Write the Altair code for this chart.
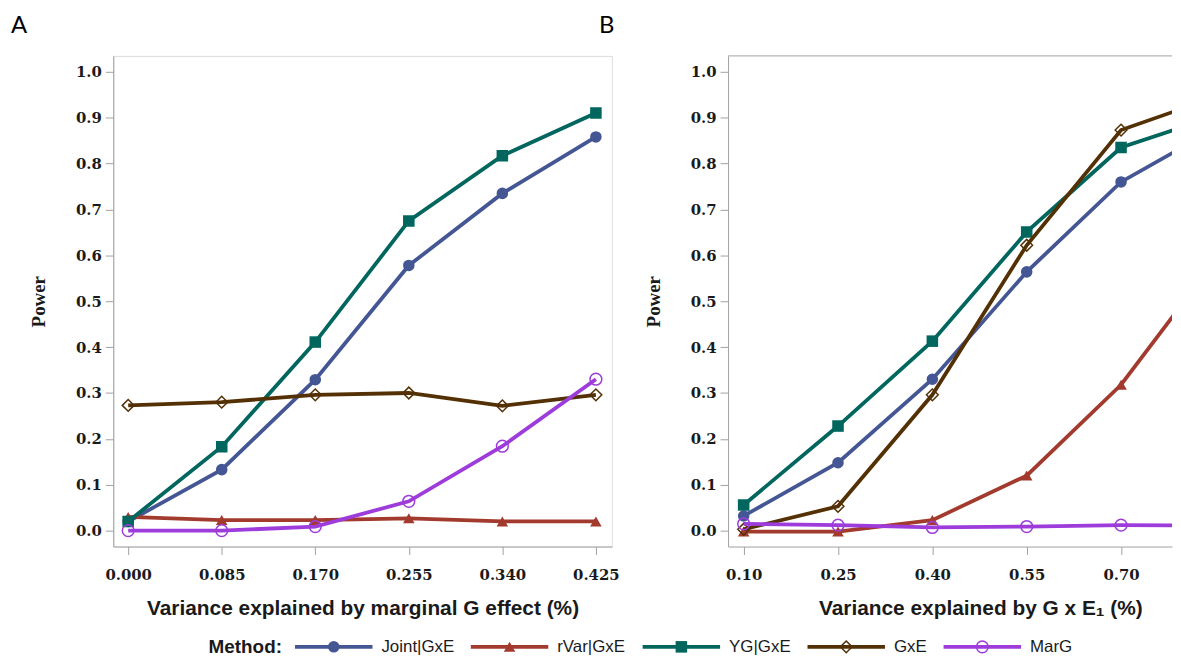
import altair as alt
import pandas as pd

# ---------------- data ----------------
methods = ["Joint|GxE", "rVar|GxE", "YG|GxE", "GxE", "MarG"]
colors = ["#445694", "#A23A2E", "#01665E", "#543005", "#9D3CDB"]
shapes = ["circle", "triangle-up", "square", "diamond", "circle"]
filled = [True, True, True, False, False]

xa = [0.000, 0.085, 0.170, 0.255, 0.340, 0.425]
a_joint = [0.020, 0.133, 0.329, 0.578, 0.735, 0.858]
a_rvar = [0.030, 0.023, 0.023, 0.027, 0.020, 0.020]
a_yg = [0.020, 0.183, 0.411, 0.675, 0.817, 0.910]
a_gxe = [0.273, 0.280, 0.296, 0.300, 0.272, 0.296]
a_marg = [0.000, 0.000, 0.009, 0.064, 0.184, 0.330]

xb = [0.10, 0.25, 0.40, 0.55, 0.70, 0.85]
b_joint = [0.032, 0.148, 0.330, 0.564, 0.760, 0.876]
b_rvar = [-0.002, -0.002, 0.023, 0.120, 0.318, 0.590]
b_yg = [0.056, 0.228, 0.413, 0.651, 0.835, 0.903]
b_gxe = [0.003, 0.053, 0.296, 0.622, 0.873, 0.945]
b_marg = [0.015, 0.012, 0.007, 0.009, 0.012, 0.011]

y_ticks = [0.0, 0.1, 0.2, 0.3, 0.4, 0.5, 0.6, 0.7, 0.8, 0.9, 1.0]
xa_ticks = [0.000, 0.085, 0.170, 0.255, 0.340, 0.425]
xb_ticks = [0.10, 0.25, 0.40, 0.55, 0.70, 0.85]

title_a = "Variance explained by marginal G effect (%)"
title_b = "Variance explained by G x E\u2081 (%)"

GRAY = "#A0A0A0"
TXT = "#1a1a1a"
H = 494
WA = 502
WB = 447
YDOM = [-0.0346, 1.0346]
TICK_FONT = "DejaVu Serif"


def long_frame(xs, series):
    rows = []
    for m, vals in zip(methods, series):
        for xv, yv in zip(xs, vals):
            rows.append({"method": m, "x": xv, "y": yv})
    return pd.DataFrame(rows)


def anchor(dx, dy):
    # invisible element that fixes the chart's outer bounds
    return alt.Chart(pd.DataFrame({"a": [0]})).mark_rule(strokeOpacity=0, strokeWidth=1).encode(
        x=alt.value(dx), x2=alt.value(dx + 1), y=alt.value(dy))


def letter(t, dx, dy):
    return alt.Chart(pd.DataFrame({"a": [0]})).mark_text(
        text=t, font="Lato", fontSize=24, align="left", baseline="alphabetic", color="#000"
    ).encode(x=alt.value(dx), y=alt.value(dy))


def panel(xs, series, xdom, width, xticks, xfmt, xtitle, title_x=None):
    df = long_frame(xs, series)
    base = alt.Chart(df)
    axis_kw = dict(
        values=xticks, format=xfmt, title=xtitle,
        labelFont=TICK_FONT, labelFontWeight="bold", labelFontSize=15, labelColor=TXT,
        titleFont="Liberation Sans", titleFontWeight="bold", titleFontSize=21, titleColor=TXT,
        tickSize=8, tickColor=GRAY, domainColor=GRAY, grid=False,
        labelPadding=13, titlePadding=15,
    )
    if title_x is not None:
        axis_kw["titleX"] = title_x
        axis_kw["titleAlign"] = "center"
    x = alt.X("x:Q", scale=alt.Scale(domain=xdom, nice=False, zero=False), axis=alt.Axis(**axis_kw))
    y = alt.Y("y:Q", scale=alt.Scale(domain=YDOM, nice=False, zero=False),
              axis=alt.Axis(values=y_ticks, format=".1f", title="Power",
                            labelFont=TICK_FONT, labelFontWeight="bold", labelFontSize=15,
                            labelColor=TXT, titleFont="Liberation Serif", titleFontWeight="bold",
                            titleFontSize=19, titleColor=TXT, tickSize=8, tickColor=GRAY,
                            domainColor=GRAY, grid=False, labelPadding=4, titlePadding=27))
    layers = []
    for m, c, s, f in zip(methods, colors, shapes, filled):
        d = base.transform_filter(alt.datum.method == m)
        layers.append(d.mark_line(color=c, strokeWidth=3.8, clip=True).encode(x=x, y=y))
        if f:
            layers.append(d.mark_point(shape=s, filled=True, color=c, size=135, opacity=1,
                                       clip=True).encode(x=x, y=y))
        else:
            layers.append(d.mark_point(shape=s, filled=False, color=c, size=140, strokeWidth=1.5,
                                       opacity=1, clip=True).encode(x=x, y=y))
    return layers


# ---------------- panel A ----------------
layers_a = panel(xa, [a_joint, a_rvar, a_yg, a_gxe, a_marg], [-0.01354, 0.4395], WA,
                 xa_ticks, ".3f", title_a)

# legend (drawn in panel A coordinates, below the plots)
LEG_Y = 595
leg_layers = [
    alt.Chart(pd.DataFrame({"a": [0]})).mark_text(
        text="Method:", font="Liberation Sans", fontWeight="bold", fontSize=19, align="left",
        baseline="middle", color=TXT).encode(x=alt.value(96), y=alt.value(LEG_Y))
]
label_w = [73, 69, 62, 33, 42]
line_len = 78
xpos = 183
for m, c, s, f, lw in zip(methods, colors, shapes, filled, label_w):
    one = alt.Chart(pd.DataFrame({"method": [m]}))
    leg_layers.append(one.mark_rule(color=c, strokeWidth=3.8).encode(
        x=alt.value(xpos), x2=alt.value(xpos + line_len), y=alt.value(LEG_Y)))
    if f:
        leg_layers.append(one.mark_point(shape=s, filled=True, color=c, size=135, opacity=1).encode(
            x=alt.value(xpos + line_len / 2), y=alt.value(LEG_Y)))
    else:
        leg_layers.append(one.mark_point(shape=s, filled=False, color=c, size=140, strokeWidth=1.5,
                                         opacity=1).encode(
            x=alt.value(xpos + line_len / 2), y=alt.value(LEG_Y)))
    leg_layers.append(one.mark_text(text=m, font="Liberation Sans", fontSize=17, align="left",
                                    baseline="middle", color=TXT).encode(
        x=alt.value(xpos + line_len + 9), y=alt.value(LEG_Y)))
    xpos += line_len + 9 + lw + 17

chart_a = alt.layer(
    anchor(-105.5, -45.5), letter("A", -103, -23), *layers_a, *leg_layers
).properties(width=WA, height=H)

# ---------------- panel B ----------------
layers_b = panel(xb, [b_joint, b_rvar, b_yg, b_gxe, b_marg], [0.0752, 0.7810], WB,
                 xb_ticks, ".2f", title_b, title_x=254)
top_rule = alt.Chart(pd.DataFrame({"a": [0]})).mark_rule(color=GRAY, strokeWidth=1).encode(
    x=alt.value(0), x2=alt.value(WB), y=alt.value(0))
chart_b = alt.layer(
    letter("B", -130, -23), top_rule, *layers_b
).properties(width=WB, height=H, view=alt.ViewBackground(stroke="transparent"))

chart = alt.hconcat(chart_a, chart_b, spacing=117, bounds="flush").properties(
    padding={"left": 0, "top": 0, "right": 0, "bottom": 0}
).configure_view(stroke=GRAY, strokeWidth=1).configure(background="white")

chart.save("out.html", embed_options={"renderer": "svg", "actions": False})
